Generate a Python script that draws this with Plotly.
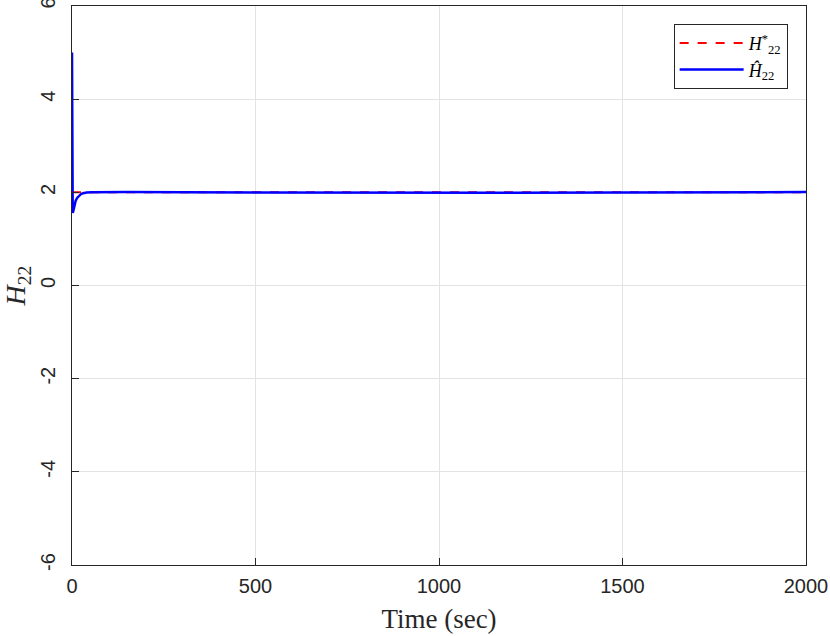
import plotly.graph_objects as go

# Data
t_ref = [0, 2000]
h_star = [2.0, 2.0]

t_hat = [0, 0.5, 1, 2, 3, 4, 6, 8, 10, 14, 18, 24, 30, 40, 55, 80, 150, 300, 500, 800, 1000, 1200, 1500, 1800, 2000]
h_hat = [5.0, 3.0, 1.7, 1.56, 1.58, 1.62, 1.7, 1.76, 1.82, 1.88, 1.92, 1.96, 1.98, 1.995, 2.0, 2.005, 2.005, 2.0, 1.995, 1.99, 1.99, 1.99, 1.995, 2.0, 2.005]

x_ticks = [0, 500, 1000, 1500, 2000]
y_ticks = [-6, -4, -2, 0, 2, 4, 6]

fig = go.Figure()
fig.add_trace(go.Scatter(
    x=t_ref, y=h_star, mode="lines",
    line=dict(color="#ff0000", width=2, dash="dash"),
    name="<i>H</i><sup>*</sup><sub>22</sub>",
))
fig.add_trace(go.Scatter(
    x=t_hat, y=h_hat, mode="lines",
    line=dict(color="#0000ff", width=2.5),
    name="<i>Ĥ</i><sub>22</sub>",
))

axis_common = dict(
    showgrid=True, gridcolor="#e3e3e3", gridwidth=1,
    showline=True, linecolor="#262626", linewidth=1, mirror=True,
    ticks="inside", ticklen=7, tickcolor="#262626",
    zeroline=False, ticklabeloverflow="allow",
    tickfont=dict(family="Liberation Sans, Arial, sans-serif", size=20, color="#262626"),
)

serif = "Liberation Serif, Times New Roman, serif"

fig.update_layout(
    width=830, height=636,
    margin=dict(l=72, r=24, t=6, b=71, autoexpand=False),
    plot_bgcolor="white", paper_bgcolor="white",
    showlegend=True,
    legend=dict(
        x=0.975, y=0.968, xanchor="right", yanchor="top",
        bgcolor="white", bordercolor="#262626", borderwidth=1,
        font=dict(family=serif, size=18, color="#000000"),
        tracegroupgap=0, itemwidth=64,
    ),
    xaxis=dict(
        range=[0, 2000], tickvals=x_ticks, ticktext=[str(v) for v in x_ticks],
        ticklabelstandoff=3,
        title=dict(text="Time (sec)", font=dict(family=serif, size=27, color="#262626"), standoff=13),
        **axis_common,
    ),
    yaxis=dict(
        range=[-6, 6], tickvals=y_ticks, ticktext=[str(v) for v in y_ticks],
        tickangle=-90, ticklabelstandoff=8,
        title=dict(text="<i>H</i><sub>22</sub>", font=dict(family=serif, size=28, color="#262626"), standoff=6),
        **axis_common,
    ),
)

fig.write_html("out.html", config={"displayModeBar": False},
               post_script="document.body.style.margin='0';document.body.style.padding='0';")
